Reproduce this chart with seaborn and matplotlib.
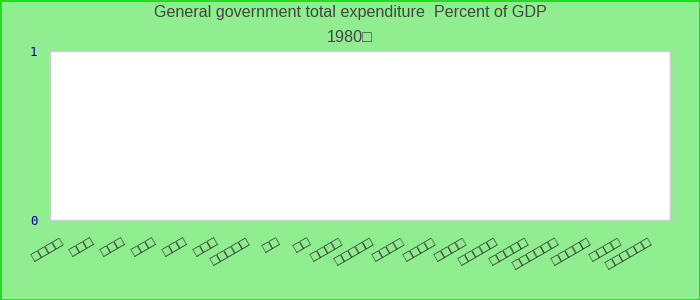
import pandas as pd
import matplotlib.pyplot as plt
import seaborn as sns
import numpy as np

sns.set_theme(style="white")
plt.rcParams["font.family"] = ["Liberation Sans", "DejaVu Sans"]

# Country names could not be rendered in the source (shown as missing-glyph boxes)
BOX = "\u25a1"
label_lengths = [4, 3, 3, 3, 3, 3, 5, 2, 2, 4, 5, 4, 4, 4, 5, 5, 6, 5, 4, 6]
countries = [BOX * n + "\u200b" * i for i, n in enumerate(label_lengths)]
# no data reported for 1980
values = [np.nan] * len(countries)
title = "General government total expenditure  Percent of GDP"
subtitle = "1980" + BOX

df = pd.DataFrame({"country": countries, "value": values})

fig = plt.figure(figsize=(7, 3), dpi=100, facecolor="#90ee90")
fig.patch.set_edgecolor("#22dd22")
fig.patch.set_linewidth(2)
ax = fig.add_axes([50 / 700, 80 / 300, 620 / 700, 169 / 300])

sns.barplot(data=df, x="country", y="value", order=countries, ax=ax, color="#4572a7")
ax.set_xticks(range(len(countries)))
ax.set_xticklabels(countries, rotation=30, ha="right", fontsize=10, color="#222222")
ax.set_xlim(-0.5, len(countries) - 0.5)
ax.set_ylim(0, 1)
ax.set_yticks([0, 1])
ax.set_yticklabels(["0", "1"], fontsize=9, color="#000099", family="DejaVu Sans Mono")
ax.set_xlabel("")
ax.set_ylabel("")
ax.set_facecolor("white")
ax.tick_params(axis="x", length=0, pad=11)
ax.tick_params(axis="y", length=0, pad=9)
for s in ax.spines.values():
    s.set_color("#cccccc")
    s.set_linewidth(1)

fig.text(0.5, 1 - 13 / 300, title, ha="center", va="center", fontsize=11.6, color="#444444")
fig.text(0.5, 1 - 37 / 300, subtitle, ha="center", va="center", fontsize=11.6, color="#444444")

fig.savefig("out.png", dpi=100, facecolor=fig.get_facecolor(), edgecolor=fig.patch.get_edgecolor())
